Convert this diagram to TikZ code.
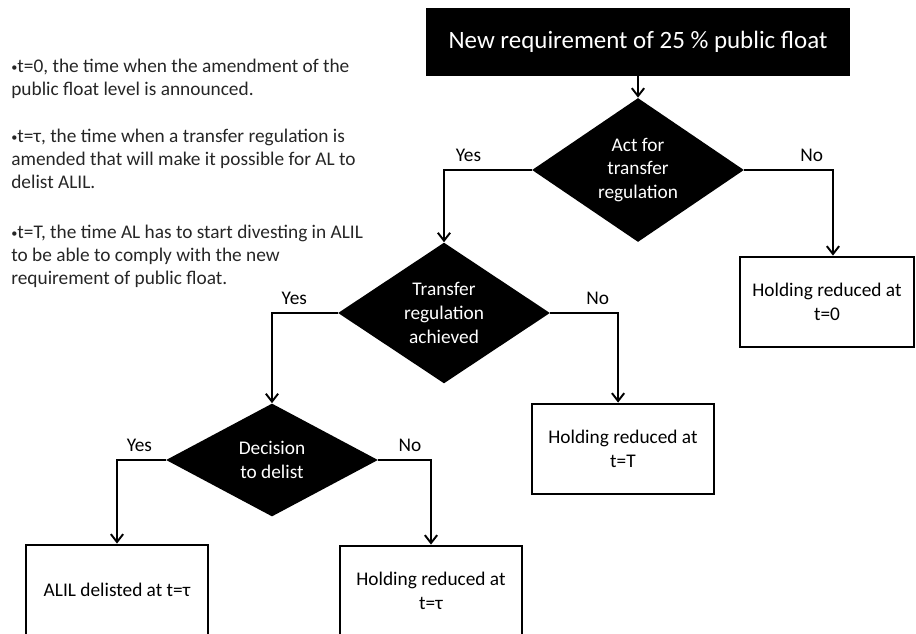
\documentclass[tikz,border=0pt]{standalone}
\usepackage{fontspec}
\setmainfont{Carlito}
\usetikzlibrary{shapes.geometric,arrows.meta}
\newcommand{\notebullet}{\raisebox{0.2ex}{\fontsize{7}{7}\selectfont•}}

\begin{document}
\begin{tikzpicture}[x=0.02cm,y=-0.02cm,
    flow/.style={line width=1.1pt,-{Straight Barb[length=4.5pt,width=7pt]}},
    decision/.style={diamond,fill=black,text=white,inner sep=0pt,minimum width=4.24cm,minimum height=2.26cm,align=center,font=\fontsize{11}{13.5}\selectfont},
    outcome/.style={draw,line width=1.6pt,fill=white,minimum width=3.64cm,minimum height=1.8cm,align=center,font=\fontsize{11}{13.5}\selectfont},
    note/.style={anchor=base west,align=left,inner sep=0pt,text=black!85,font=\fontsize{11}{13.1}\selectfont},
    lab/.style={font=\fontsize{11}{13}\selectfont,above,yshift=1pt}]
    \useasboundingbox (0,0) rectangle (916,634);
    % note a sinistra (base = ultima riga)
    \node[note] (note0) at (11,96) {\notebullet t=0, the time when the amendment of the\\public float level is announced.};
    \node[note] (notetau) at (11,189) {\notebullet t=τ, the time when a transfer regulation is\\amended that will make it possible for AL to\\delist ALIL.};
    \node[note] (noteT) at (11,285) {\notebullet t=T, the time AL has to start divesting in ALIL\\to be able to comply with the new\\requirement of public float.};
    % blocchi
    \node[fill=black,text=white,minimum width=8.48cm,minimum height=1.36cm,font=\fontsize{14.2}{16}\selectfont] (start) at (638,42) {New requirement of 25 \% public float};
    \node[decision] (act) at (638,170) {Act for\\transfer\\regulation};
    \node[decision] (achieved) at (444,313) {Transfer\\regulation\\achieved};
    \node[decision] (delist) at (272,460) {Decision\\to delist};
    \node[outcome,minimum width=3.48cm] (red0) at (827,302) {Holding reduced at\\t=0};
    \node[outcome] (redT) at (623,449) {Holding reduced at\\t=T};
    \node[outcome] (delisted) at (117,590) {ALIL delisted at t=τ};
    \node[outcome] (redtau) at (431,591) {Holding reduced at\\t=τ};
    % frecce
    \draw[flow] (start) -- (act);
    \draw[flow] (act.west) -| node[lab,pos=0.36] {Yes} (achieved.north);
    \draw[flow] (act.east) -| node[lab,pos=0.38] {No} ([xshift=3.4pt]red0.north);
    \draw[flow] (achieved.west) -| node[lab,pos=0.33] {Yes} (delist.north);
    \draw[flow] (achieved.east) -| node[lab,pos=0.35] {No} ([xshift=-2.8pt]redT.north);
    \draw[flow] (delist.west) -| node[lab,pos=0.27] {Yes} (delisted.north);
    \draw[flow] (delist.east) -| node[lab,pos=0.3] {No} (redtau.north);
\end{tikzpicture}
\end{document}
